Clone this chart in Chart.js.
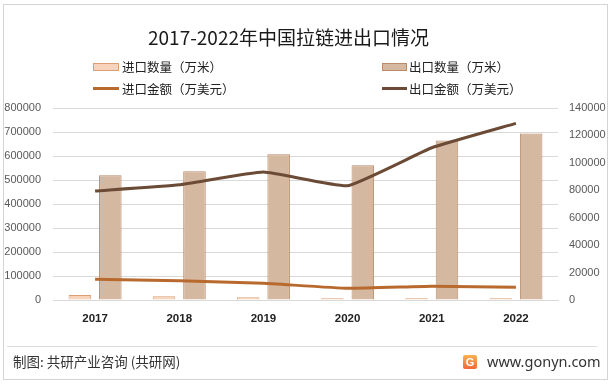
<!DOCTYPE html>
<html>
<head>
<meta charset="utf-8">
<script src="https://cdn.jsdelivr.net/npm/chart.js@4/dist/chart.umd.min.js"></script>
<style>
  html, body { margin:0; padding:0; background:#fff; }
  #wrap { position:relative; width:613px; height:385px; overflow:hidden; background:#fff; }
  #frame { position:absolute; left:3px; top:4px; width:605px; height:376px; border:1px solid #d4d4d4; box-sizing:border-box; }
  canvas { position:absolute; left:0; top:0; }
  .t { position:absolute; white-space:nowrap; font-family:"Noto Sans CJK SC","Noto Sans",sans-serif; }
  #title { left:0; width:577px; text-align:center; top:24px; font-size:19px; line-height:25px; color:#1a1a1a; }
  .lg { font-size:12.5px; line-height:16px; color:#222; }
  .sw { position:absolute; box-sizing:border-box; }
  #footline { position:absolute; left:7px; top:346px; width:590px; height:1px; background:#dcdcdc; }
  #src { left:13px; top:352px; font-size:13.5px; line-height:18px; color:#333; }
  #url { left:487px; top:351px; font-family:"Noto Sans","Liberation Sans",sans-serif; font-size:14.5px; line-height:20px; color:#333; }
  #logo { position:absolute; left:463px; top:355px; width:14px; height:14px; border-radius:2px;
          background:linear-gradient(180deg,#fbb24e,#f2673a); color:#fff; font:bold 11px "Liberation Sans",sans-serif; text-align:center; line-height:14px; }
</style>
</head>
<body>
<div id="wrap">
  <canvas id="c" width="613" height="385"></canvas>
  <div id="frame"></div>
  <div class="t" id="title">2017-2022年中国拉链进出口情况</div>

  <div class="sw" style="left:93px;top:63px;width:26px;height:8px;background:#F6D3BA;border:1px solid #DC9F74;"></div>
  <div class="t lg" style="left:122px;top:59px;">进口数量（万米）</div>
  <div class="sw" style="left:382px;top:63px;width:25px;height:8px;background:#D5B8A0;border:1px solid #B98B6A;"></div>
  <div class="t lg" style="left:409px;top:59px;">出口数量（万米）</div>
  <div class="sw" style="left:93px;top:87px;width:26px;height:3px;background:#B86A2E;"></div>
  <div class="t lg" style="left:122px;top:81px;">进口金额（万美元）</div>
  <div class="sw" style="left:382px;top:87px;width:25px;height:3px;background:#6B4B35;"></div>
  <div class="t lg" style="left:409px;top:81px;">出口金额（万美元）</div>

  <div id="footline"></div>
  <div class="t" id="src">制图: 共研产业咨询 (共研网)</div>
  <div id="logo">G</div>
  <div class="t" id="url">www.gonyn.com</div>
</div>
<script>
const categories = ['2017','2018','2019','2020','2021','2022'];
const importQty = [21000, 16000, 11000, 7000, 7000, 7000];
const exportQty = [520000, 536000, 607000, 561000, 665000, 694000];
const importAmt = [15100, 14100, 12200, 8500, 10000, 9300];
const exportAmt = [79500, 84000, 93300, 83300, 111000, 128800];
const leftTicks = [0, 100000, 200000, 300000, 400000, 500000, 600000, 700000, 800000];
const rightTicks = [0, 20000, 40000, 60000, 80000, 100000, 120000, 140000];

const tickFont = { family: '"Liberation Sans", Arial, sans-serif', size: 11 };

new Chart(document.getElementById('c'), {
  data: {
    labels: categories,
    datasets: [
      { type:'line', label:'进口金额（万美元）', data: importAmt, yAxisID:'y1', borderColor:'#B86A2E', borderWidth:3, pointRadius:0, tension:0.12, order:0 },
      { type:'line', label:'出口金额（万美元）', data: exportAmt, yAxisID:'y1', borderColor:'#6B4B35', borderWidth:3, pointRadius:0, tension:0.12, order:0 },
      { type:'bar', label:'进口数量（万米）', data: importQty, yAxisID:'y', backgroundColor:'#F6D3BA', borderColor:'#DC9F74', borderWidth:1, categoryPercentage:0.724, barPercentage:0.74, order:1 },
      { type:'bar', label:'出口数量（万米）', data: exportQty, yAxisID:'y', backgroundColor:'#D5B8A0', borderColor:'#B98B6A', borderWidth:1, categoryPercentage:0.724, barPercentage:0.74, order:1 }
    ]
  },
  options: {
    responsive:false,
    devicePixelRatio:1,
    animation:false,
    layout: { padding: { left:0, right:0, top:108, bottom:55 } },
    plugins: { legend:{ display:false }, title:{ display:false }, tooltip:{ enabled:false } },
    scales: {
      x: {
        grid: { display:false, drawTicks:false },
        border: { display:true, color:'#d9d9d9', width:1 },
        ticks: { color:'#222', font:{ family:'"Liberation Sans", Arial, sans-serif', size:11.5, weight:'bold' }, padding:12, maxRotation:0 },
        afterFit: s => { s.height = 30; }
      },
      y: {
        position:'left', min:0, max:800000,
        afterBuildTicks: s => { s.ticks = leftTicks.map(v => ({ value:v })); },
        grid: { color:'#d9d9d9', drawTicks:false },
        border: { display:false },
        ticks: { color:'#595959', font:tickFont, padding:12, callback: v => String(v) },
        afterFit: s => { s.width = 53; }
      },
      y1: {
        position:'right', min:0, max:140000,
        afterBuildTicks: s => { s.ticks = rightTicks.map(v => ({ value:v })); },
        grid: { display:false, drawTicks:false },
        border: { display:false },
        ticks: { color:'#595959', font:tickFont, padding:11, callback: v => String(v) },
        afterFit: s => { s.width = 55; }
      }
    }
  }
});
</script>
</body>
</html>
